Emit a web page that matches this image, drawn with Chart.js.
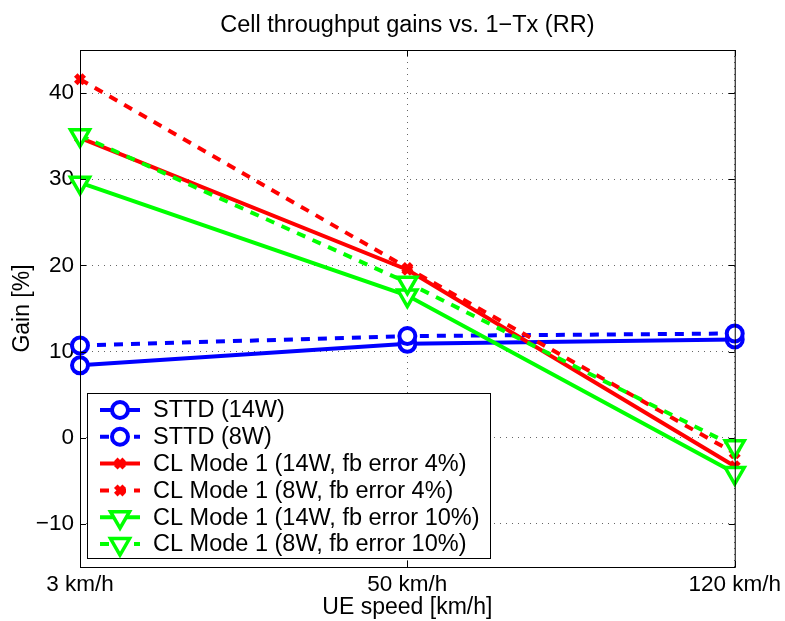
<!DOCTYPE html>
<html>
<head>
<meta charset="utf-8">
<script src="https://cdn.jsdelivr.net/npm/chart.js@4"></script>
<style>
  html, body { margin: 0; padding: 0; background: #fff; }
  #wrap { width: 785px; height: 621px; }
</style>
</head>
<body>
<div id="wrap"><canvas id="gainChart"></canvas></div>
<script>
// values
const speeds = ["3 km/h", "50 km/h", "120 km/h"];
const sttd14W = [8.4, 10.9, 11.4];
const sttd8W = [10.7, 11.8, 12.1];
const clFb4_14W = [34.8, 19.5, -3.3];
const clFb4_8W = [41.6, 19.7, -1.8];
const clFb10_14W = [29.6, 16.5, -4.1];
const clFb10_8W = [35.1, 18.0, -1.0];
const gainTicks = [-10, 0, 10, 20, 30, 40];
const chartTitle = "Cell throughput gains vs. 1\u2212Tx (RR)";

const FONT = "'Liberation Sans', Arial, Helvetica, sans-serif";
const BLUE = "#0000ff", RED = "#ff0000", GREEN = "#00ff00";

function series(label, data, color, dashed, marker) {
  const s = {
    label: label,
    data: data,
    borderColor: color,
    backgroundColor: color,
    borderWidth: 4,
    borderDash: dashed ? [9, 8] : [],
    tension: 0,
    fill: false,
    clip: false,
    pointBorderColor: color,
    pointBackgroundColor: "#fff",
    pointBorderWidth: 4,
  };
  if (marker == "circle") {
    s.pointStyle = "circle";
    s.pointRadius = 8;
  } else if (marker == "x") {
    s.pointStyle = "crossRot";
    s.pointRadius = 6;
    s.pointBorderWidth = 5;
  } else {
    s.pointStyle = "triangle";
    s.pointRotation = 180;
    s.pointRadius = 11;
    s.pointBorderWidth = 3.5;
  }
  return s;
}

const datasets = [
  series("STTD (14W)", sttd14W, BLUE, false, "circle"),
  series("STTD (8W)", sttd8W, BLUE, true, "circle"),
  series("CL Mode 1 (14W, fb error 4%)", clFb4_14W, RED, false, "x"),
  series("CL Mode 1 (8W, fb error 4%)", clFb4_8W, RED, true, "x"),
  series("CL Mode 1 (14W, fb error 10%)", clFb10_14W, GREEN, false, "tri"),
  series("CL Mode 1 (8W, fb error 10%)", clFb10_8W, GREEN, true, "tri"),
];
// later series on top, like matlab
datasets.forEach((d, i) => (d.order = datasets.length - i));

function marker(ctx, ds, x, y) {
  const opts = {
    pointStyle: ds.pointStyle,
    rotation: ds.pointRotation || 0,
    radius: ds.pointRadius,
    borderWidth: ds.pointBorderWidth,
  };
  ctx.save();
  ctx.setLineDash([]);
  ctx.lineWidth = ds.pointBorderWidth;
  ctx.strokeStyle = ds.pointBorderColor;
  ctx.fillStyle = ds.pointBackgroundColor;
  Chart.helpers.drawPoint(ctx, opts, x, y);
  ctx.restore();
}

// title over the axes, axes box, inward ticks and the boxed legend
const matlabFrame = {
  id: "matlabFrame",
  afterDraw(chart) {
    const ctx = chart.ctx;
    const a = chart.chartArea;
    const xs = chart.scales.x, ys = chart.scales.y;
    ctx.save();

    ctx.fillStyle = "#000";
    ctx.font = "23.5px " + FONT;
    ctx.textAlign = "center";
    ctx.textBaseline = "middle";
    ctx.fillText(chartTitle, (a.left + a.right) / 2, 26);

    ctx.strokeStyle = "#000";
    ctx.lineWidth = 1;
    ctx.strokeRect(a.left + 0.5, a.top + 0.5, a.right - a.left, a.bottom - a.top);
    ctx.beginPath();
    speeds.forEach((s, i) => {
      const px = Math.round(xs.getPixelForValue(i)) + 0.5;
      ctx.moveTo(px, a.bottom); ctx.lineTo(px, a.bottom - 6);
      ctx.moveTo(px, a.top); ctx.lineTo(px, a.top + 6);
    });
    gainTicks.forEach(v => {
      const py = Math.round(ys.getPixelForValue(v)) + 0.5;
      ctx.moveTo(a.left, py); ctx.lineTo(a.left + 6, py);
      ctx.moveTo(a.right, py); ctx.lineTo(a.right - 6, py);
    });
    ctx.stroke();

    // legend
    const lx = 87, ly = 393, lw = 403, lh = 165, row = 26.8;
    ctx.fillStyle = "#fff";
    ctx.fillRect(lx, ly, lw, lh);
    ctx.strokeRect(lx + 0.5, ly + 0.5, lw, lh);
    ctx.font = "23.5px " + FONT;
    ctx.textAlign = "left";
    ctx.textBaseline = "middle";
    chart.data.datasets.forEach((ds, i) => {
      const cy = ly + 17 + i * row;
      ctx.save();
      ctx.strokeStyle = ds.borderColor;
      ctx.lineWidth = ds.borderWidth;
      ctx.setLineDash(ds.borderDash);
      ctx.beginPath();
      ctx.moveTo(100, cy); ctx.lineTo(140, cy);
      ctx.stroke();
      ctx.restore();
      marker(ctx, ds, 120, cy);
      ctx.fillStyle = "#000";
      ctx.fillText(ds.label, 153, cy + 1);
    });
    ctx.restore();
  },
};

new Chart(document.getElementById("gainChart"), {
  type: "line",
  data: { labels: speeds, datasets: datasets },
  plugins: [matlabFrame],
  options: {
    responsive: true,
    maintainAspectRatio: false,
    animation: false,
    layout: { padding: { left: 0, right: 50, top: 50, bottom: 0 } },
    plugins: {
      legend: { display: false },
      tooltip: { enabled: false },
      title: { display: false },
    },
    scales: {
      x: {
        type: "category",
        offset: false,
        grid: { color: "rgba(0,0,0,0.6)", lineWidth: 1, drawTicks: false },
        border: { display: false, dash: [1, 5] },
        ticks: { color: "#000", padding: 4, maxRotation: 0, font: { family: FONT, size: 22.5 } },
        title: {
          display: true,
          text: "UE speed [km/h]",
          color: "#000",
          font: { family: FONT, size: 23 },
          padding: { top: 0, bottom: 0 },
        },
        afterFit(scale) { scale.height = 54; },
      },
      y: {
        min: -15,
        max: 45,
        grid: { color: "rgba(0,0,0,0.6)", lineWidth: 1, drawTicks: false },
        border: { display: false, dash: [1, 5] },
        ticks: {
          color: "#000",
          padding: 6,
          font: { family: FONT, size: 22.5 },
          callback: v => String(v).replace("-", "\u2212"),
        },
        afterBuildTicks(scale) { scale.ticks = gainTicks.map(v => ({ value: v })); },
        title: {
          display: true,
          text: "Gain [%]",
          color: "#000",
          font: { family: FONT, size: 23 },
          padding: { top: 9, bottom: 0 },
        },
        afterFit(scale) { scale.width = 80; },
      },
    },
  },
});
</script>
</body>
</html>
